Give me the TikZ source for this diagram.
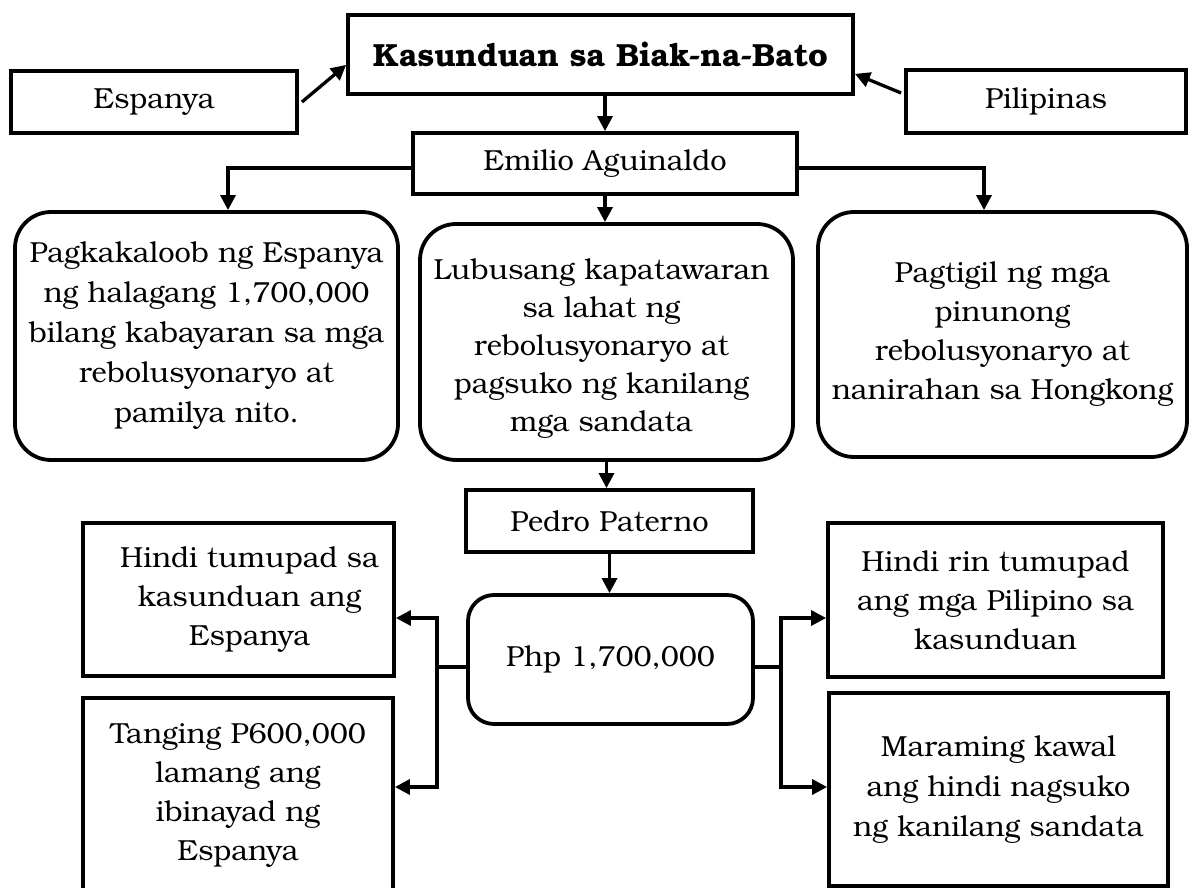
\documentclass[tikz,border=0pt]{standalone}
\usepackage{fontspec}
\setmainfont{texgyrebonum}[Extension=.otf, UprightFont=*-regular, BoldFont=*-bold]
\usetikzlibrary{arrows.meta}
\begin{document}
\begin{tikzpicture}[x=1pt,y=-1pt,
  box/.style={draw, line width=3.8pt, inner sep=0pt, anchor=center},
  rbox/.style={box, rounded corners=36pt},
  txt/.style={align=center, inner sep=0pt, font=\fontsize{29}{40}\selectfont},
  arr/.style={line width=3.3pt, -{Triangle[length=15pt,width=15pt]}},
  con/.style={line width=3.3pt}]
\fill[white] (0,0) rectangle (1189,888);
\path[use as bounding box] (0,0) rectangle (1189,888);
\begin{scope}
\clip (0,0) rectangle (1189,888);
% boxes
\node[box, minimum width=505pt, minimum height=79pt] (title) at (600.5,54.5) {};
\node[box, minimum width=286pt, minimum height=62pt] (esp) at (154,102) {};
\node[box, minimum width=280pt, minimum height=63pt] (pil) at (1046,101.5) {};
\node[box, minimum width=384pt, minimum height=61pt] (emi) at (605,163.5) {};
\node[rbox, minimum width=383pt, minimum height=248pt] (pag) at (206.5,336) {};
\node[rbox, minimum width=373pt, minimum height=236pt] (lub) at (606.5,342) {};
\node[rbox, minimum width=369pt, minimum height=245pt] (pagt) at (1002.5,334.5) {};
\node[box, minimum width=287pt, minimum height=62pt] (ped) at (609.5,521) {};
\node[box, rounded corners=26pt, minimum width=285pt, minimum height=129pt] (php) at (610.5,659.5) {};
\node[box, minimum width=311pt, minimum height=153pt] (hin) at (238.5,599.5) {};
\node[box, minimum width=310pt, minimum height=194pt] (tan) at (238,795) {};
\node[box, minimum width=335pt, minimum height=154pt] (hrin) at (995.5,600) {};
\node[box, minimum width=339pt, minimum height=193pt] (mar) at (998.5,789.5) {};
\end{scope}
% texts
\node[txt, font=\fontsize{32}{40}\selectfont\bfseries] (ttitle) at (title) {Kasunduan sa Biak-na-Bato};
\node[txt] (tesp) at (esp) {Espanya};
\node[txt] (tpil) at (pil) {Pilipinas};
\node[txt] (temi) at (emi) {Emilio Aguinaldo};
\node[txt] (tpag) at (pag) {Pagkakaloob ng Espanya\\ng halagang 1,700,000\\bilang kabayaran sa mga\\rebolusyonaryo at\\pamilya nito.};
\node[txt, font=\fontsize{29}{38}\selectfont] (tlub) at ([xshift=-5pt,yshift=-6.5pt]lub.center) {Lubusang kapatawaran\\sa lahat ng\\rebolusyonaryo at\\pagsuko ng kanilang\\mga sandata};
\node[txt, font=\fontsize{29}{39}\selectfont] (tpagt) at (pagt) {Pagtigil ng mga\\pinunong\\rebolusyonaryo at\\nanirahan sa Hongkong};
\node[txt] (tped) at (ped) {Pedro Paterno};
\node[txt] (tphp) at (php) {Php 1,700,000};
\node[txt, font=\fontsize{29}{39}\selectfont] (thin) at ([xshift=11pt]hin.center) {Hindi tumupad sa\\kasunduan ang\\Espanya};
\node[txt, font=\fontsize{29}{39}\selectfont] (ttan) at (tan) {Tanging P600,000\\lamang ang\\ibinayad ng\\Espanya};
\node[txt, font=\fontsize{29}{39}\selectfont] (thrin) at (hrin) {Hindi rin tumupad\\ang mga Pilipino sa\\kasunduan};
\node[txt] (tmar) at (mar) {Maraming kawal\\ang hindi nagsuko\\ng kanilang sandata};
% connectors
\draw[arr] ([xshift=3pt]esp.east) -- ([yshift=31pt]title.south west);
\draw[arr] ([xshift=-3pt,yshift=8.5pt]pil.west) -- ([yshift=22pt]title.south east);
\draw[arr] (emi.north |- title.south) -- (emi.north);
\draw[arr] ([yshift=-4.5pt]emi.west) -| ([xshift=21.5pt]pag.north);
\draw[arr] ([yshift=-4.5pt]emi.east) -| ([xshift=-18.5pt]pagt.north);
\draw[arr] (emi.south) -- (emi.south |- lub.north);
\draw[arr] (lub.south) -- (lub.south |- ped.north);
\draw[arr] (ped.south) -- (ped.south |- php.north);
\coordinate (jl) at (437,667);
\coordinate (jr) at (781,667);
\draw[con] (php.west |- jl) -- (jl);
\draw[con] (php.east |- jr) -- (jr);
\draw[arr] (jl) |- ([yshift=-18.5pt]hin.east);
\draw[arr] (jl) |- ([yshift=8pt]tan.east);
\draw[arr] (jr) |- ([yshift=-18pt]hrin.west);
\draw[arr] (jr) |- ([yshift=2.5pt]mar.west);
\end{tikzpicture}
\end{document}
